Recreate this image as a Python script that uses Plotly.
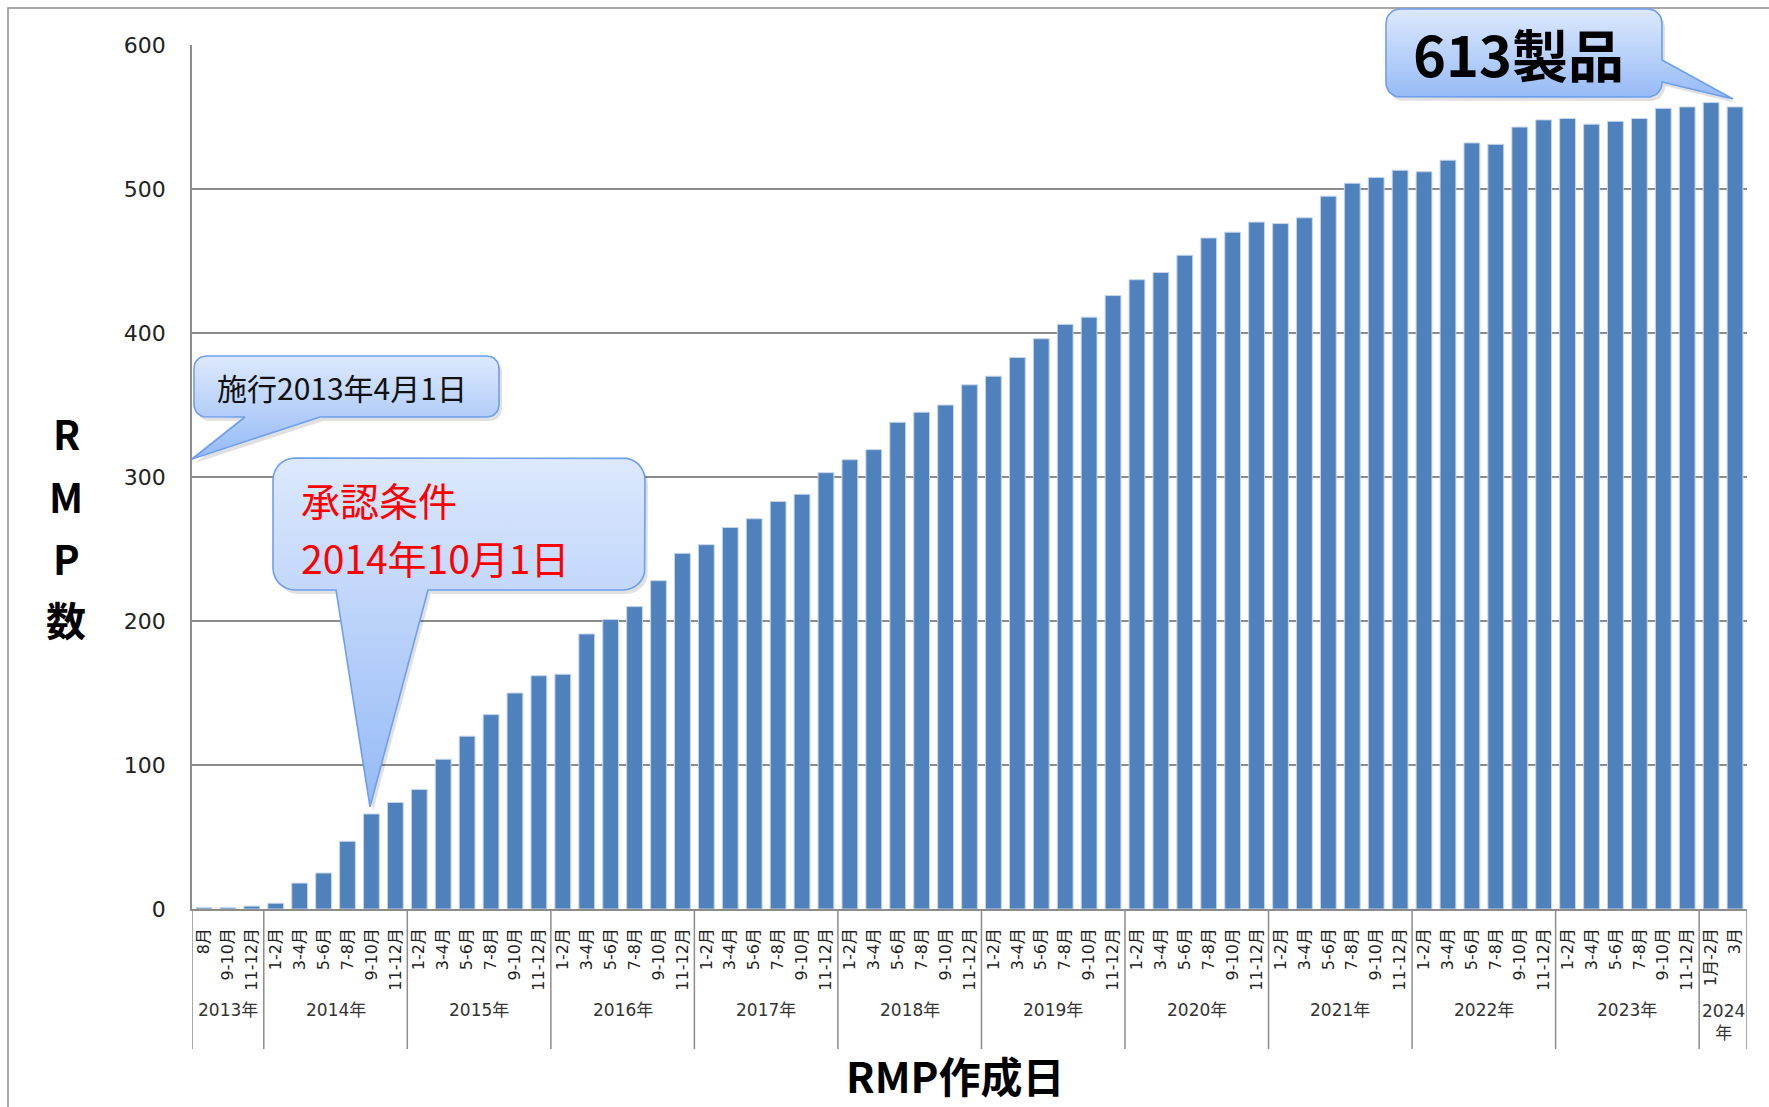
import math
import plotly.graph_objects as go

# ---------------- data ----------------
year_labels = ["2013年", "2014年", "2015年", "2016年", "2017年", "2018年",
               "2019年", "2020年", "2021年", "2022年", "2023年", "2024<br>年"]
months_2013 = ["8月", "9-10月", "11-12月"]
months_regular = ["1-2月", "3-4月", "5-6月", "7-8月", "9-10月", "11-12月"]
months_2024 = ["1月-2月", "3月"]

rmp_2013 = [1, 1, 2]
rmp_2014 = [4, 18, 25, 47, 66, 74]
rmp_2015 = [83, 104, 120, 135, 150, 162]
rmp_2016 = [163, 191, 201, 210, 228, 247]
rmp_2017 = [253, 265, 271, 283, 288, 303]
rmp_2018 = [312, 319, 338, 345, 350, 364]
rmp_2019 = [370, 383, 396, 406, 411, 426]
rmp_2020 = [437, 442, 454, 466, 470, 477]
rmp_2021 = [476, 480, 495, 504, 508, 513]
rmp_2022 = [512, 520, 532, 531, 543, 548]
rmp_2023 = [549, 545, 547, 549, 556, 557]
rmp_2024 = [560, 557]

y_ticks = [0, 100, 200, 300, 400, 500, 600]
x_title = "RMP作成日"
y_title_chars = ["R", "M", "P", "数"]
callout_start = "施行2013年4月1日"
callout_cond = ["承認条件", "2014年10月1日"]
callout_total = "613製品"

# ---------------- build ----------------
month_groups = [months_2013] + [months_regular] * 10 + [months_2024]
value_groups = [rmp_2013, rmp_2014, rmp_2015, rmp_2016, rmp_2017, rmp_2018,
                rmp_2019, rmp_2020, rmp_2021, rmp_2022, rmp_2023, rmp_2024]
month_labels = [m for g in month_groups for m in g]
rmp_counts = [v for g in value_groups for v in g]
n = len(rmp_counts)
idx = list(range(n))

W, H = 1769, 1107
FONT_JP = "Noto Sans CJK JP"
FONT_NUM = "DejaVu Sans, Noto Sans CJK JP"
GRID = "#8c8c8c"


def py(p):  # pixel y -> paper
    return 1 - p / H


def px(p):
    return p / W


fig = go.Figure()
fig.add_trace(go.Bar(
    x=idx, y=rmp_counts,
    marker=dict(color="#4f81bd", line=dict(color="#c6d5ea", width=1)),
    hoverinfo="skip", showlegend=False,
))


def callout_path(x0, y0, x1, y1, r, side, base, tip):
    pts = []

    def arc(cx, cy, a0, a1):
        for k in range(9):
            t = math.radians(a0 + (a1 - a0) * k / 8)
            pts.append((cx + r * math.cos(t), cy + r * math.sin(t)))

    arc(x0 + r, y0 + r, 180, 270)
    arc(x1 - r, y0 + r, 270, 360)
    if side == "right":
        pts += [(x1, base[0]), tip, (x1, base[1])]
    arc(x1 - r, y1 - r, 0, 90)
    if side == "bottom":
        pts += [(base[1], y1), tip, (base[0], y1)]
    arc(x0 + r, y1 - r, 90, 180)
    pts.append(pts[0])
    return [p[0] for p in pts], [p[1] for p in pts]


callouts = [
    (194, 356, 499, 417, 12, "bottom", (245, 320), (192, 459)),
    (273, 458, 645, 590, 22, "bottom", (336, 428), (370, 807)),
    (1386, 9, 1662, 97, 14, "right", (60, 82), (1733, 99)),
]
for c in callouts:
    xs, ys = callout_path(*c)
    fig.add_trace(go.Scatter(
        x=[v + 3 for v in xs], y=[v + 4 for v in ys], xaxis="x2", yaxis="y2",
        mode="lines", fill="toself", fillcolor="rgba(0,0,0,0.12)",
        line=dict(width=0, color="rgba(0,0,0,0)"), hoverinfo="skip", showlegend=False))
    fig.add_trace(go.Scatter(
        x=xs, y=ys, xaxis="x2", yaxis="y2", mode="lines", fill="toself",
        fillgradient=dict(type="vertical",
                          colorscale=[[0, "#95baf6"], [1, "#dde9fd"]]),
        line=dict(width=1.6, color="#6e9eee"), hoverinfo="skip", showlegend=False))

annotations = []
# callout texts
annotations.append(dict(x=215, y=387, xref="x2", yref="y2", text=callout_start,
                        showarrow=False, xanchor="left", yanchor="middle",
                        font=dict(family=FONT_JP, size=30, color="#111111")))
for t, yy in zip(callout_cond, [499, 557]):
    annotations.append(dict(x=299, y=yy, xref="x2", yref="y2", text=t,
                            showarrow=False, xanchor="left", yanchor="middle",
                            font=dict(family=FONT_JP, size=39, color="#ff0000")))
annotations.append(dict(x=1518, y=52, xref="x2", yref="y2", text="<b>" + callout_total + "</b>",
                        showarrow=False, xanchor="center", yanchor="middle",
                        font=dict(family=FONT_JP, size=56, color="#000000")))

# y title stacked characters
for ch, yy in zip(y_title_chars, [433, 496, 558, 619]):
    annotations.append(dict(x=px(66), y=py(yy), xref="paper", yref="paper",
                            text="<b>" + ch + "</b>", showarrow=False,
                            xanchor="center", yanchor="middle",
                            font=dict(family=FONT_JP, size=40, color="#000000")))

# x title
annotations.append(dict(x=px(955), y=py(1074), xref="paper", yref="paper",
                        text="<b>" + x_title + "</b>", showarrow=False,
                        xanchor="center", yanchor="middle",
                        font=dict(family=FONT_JP, size=42, color="#000000")))

# year labels + separators
shapes = []
start = 0
bounds = [-0.5]
for lab, g in zip(year_labels, month_groups):
    end = start + len(g)
    center = (start + end - 1) / 2
    two_line = "<br>" in lab
    annotations.append(dict(x=center, y=py(1022 if two_line else 1010), xref="x", yref="paper",
                            text=lab, showarrow=False, xanchor="center", yanchor="middle",
                            font=dict(family=FONT_NUM, size=17, color="#333333")))
    bounds.append(end - 0.5)
    start = end
for b in bounds:
    shapes.append(dict(type="line", xref="x", yref="paper", x0=b, x1=b,
                       y0=py(909), y1=py(1049), line=dict(color=GRID, width=1.5)))

# outer border
shapes.append(dict(type="rect", xref="paper", yref="paper", x0=px(8), x1=1.02,
                   y0=-0.02, y1=py(8), line=dict(color="#8c8c8c", width=1.5),
                   fillcolor="rgba(0,0,0,0)", layer="below"))

fig.update_layout(
    width=W, height=H, autosize=False,
    margin=dict(l=0, r=0, t=0, b=0, pad=0),
    paper_bgcolor="white", plot_bgcolor="rgba(0,0,0,0)",
    bargap=0.34, showlegend=False,
    annotations=annotations, shapes=shapes,
    xaxis=dict(domain=[px(192), px(1747)], anchor="y", range=[-0.5, n - 0.5],
               tickmode="array", tickvals=idx, ticktext=month_labels, tickangle=-90,
               tickfont=dict(family=FONT_NUM, size=16, color="#222222"),
               ticks="", ticklabelstandoff=11, showline=True, linecolor=GRID,
               linewidth=1.5, showgrid=False, zeroline=False, fixedrange=True,
               automargin=False),
    yaxis=dict(domain=[py(909), py(45)], anchor="x", range=[0, 600],
               tickmode="array", tickvals=y_ticks,
               tickfont=dict(family=FONT_NUM, size=22, color="#222222"),
               ticks="", ticklabelstandoff=20, showline=True, linecolor=GRID,
               linewidth=1.5, showgrid=True, gridcolor=GRID, gridwidth=1.5,
               zeroline=False, fixedrange=True, automargin=False),
    xaxis2=dict(domain=[0, 1], anchor="y2", range=[0, W], visible=False, fixedrange=True,
                automargin=False),
    yaxis2=dict(domain=[0, 1], anchor="x2", range=[H, 0], visible=False, fixedrange=True,
                automargin=False),
)

fig.write_html("out.html", config={"displayModeBar": False},
               post_script="document.body.style.margin='0';document.body.style.overflow='hidden';")
